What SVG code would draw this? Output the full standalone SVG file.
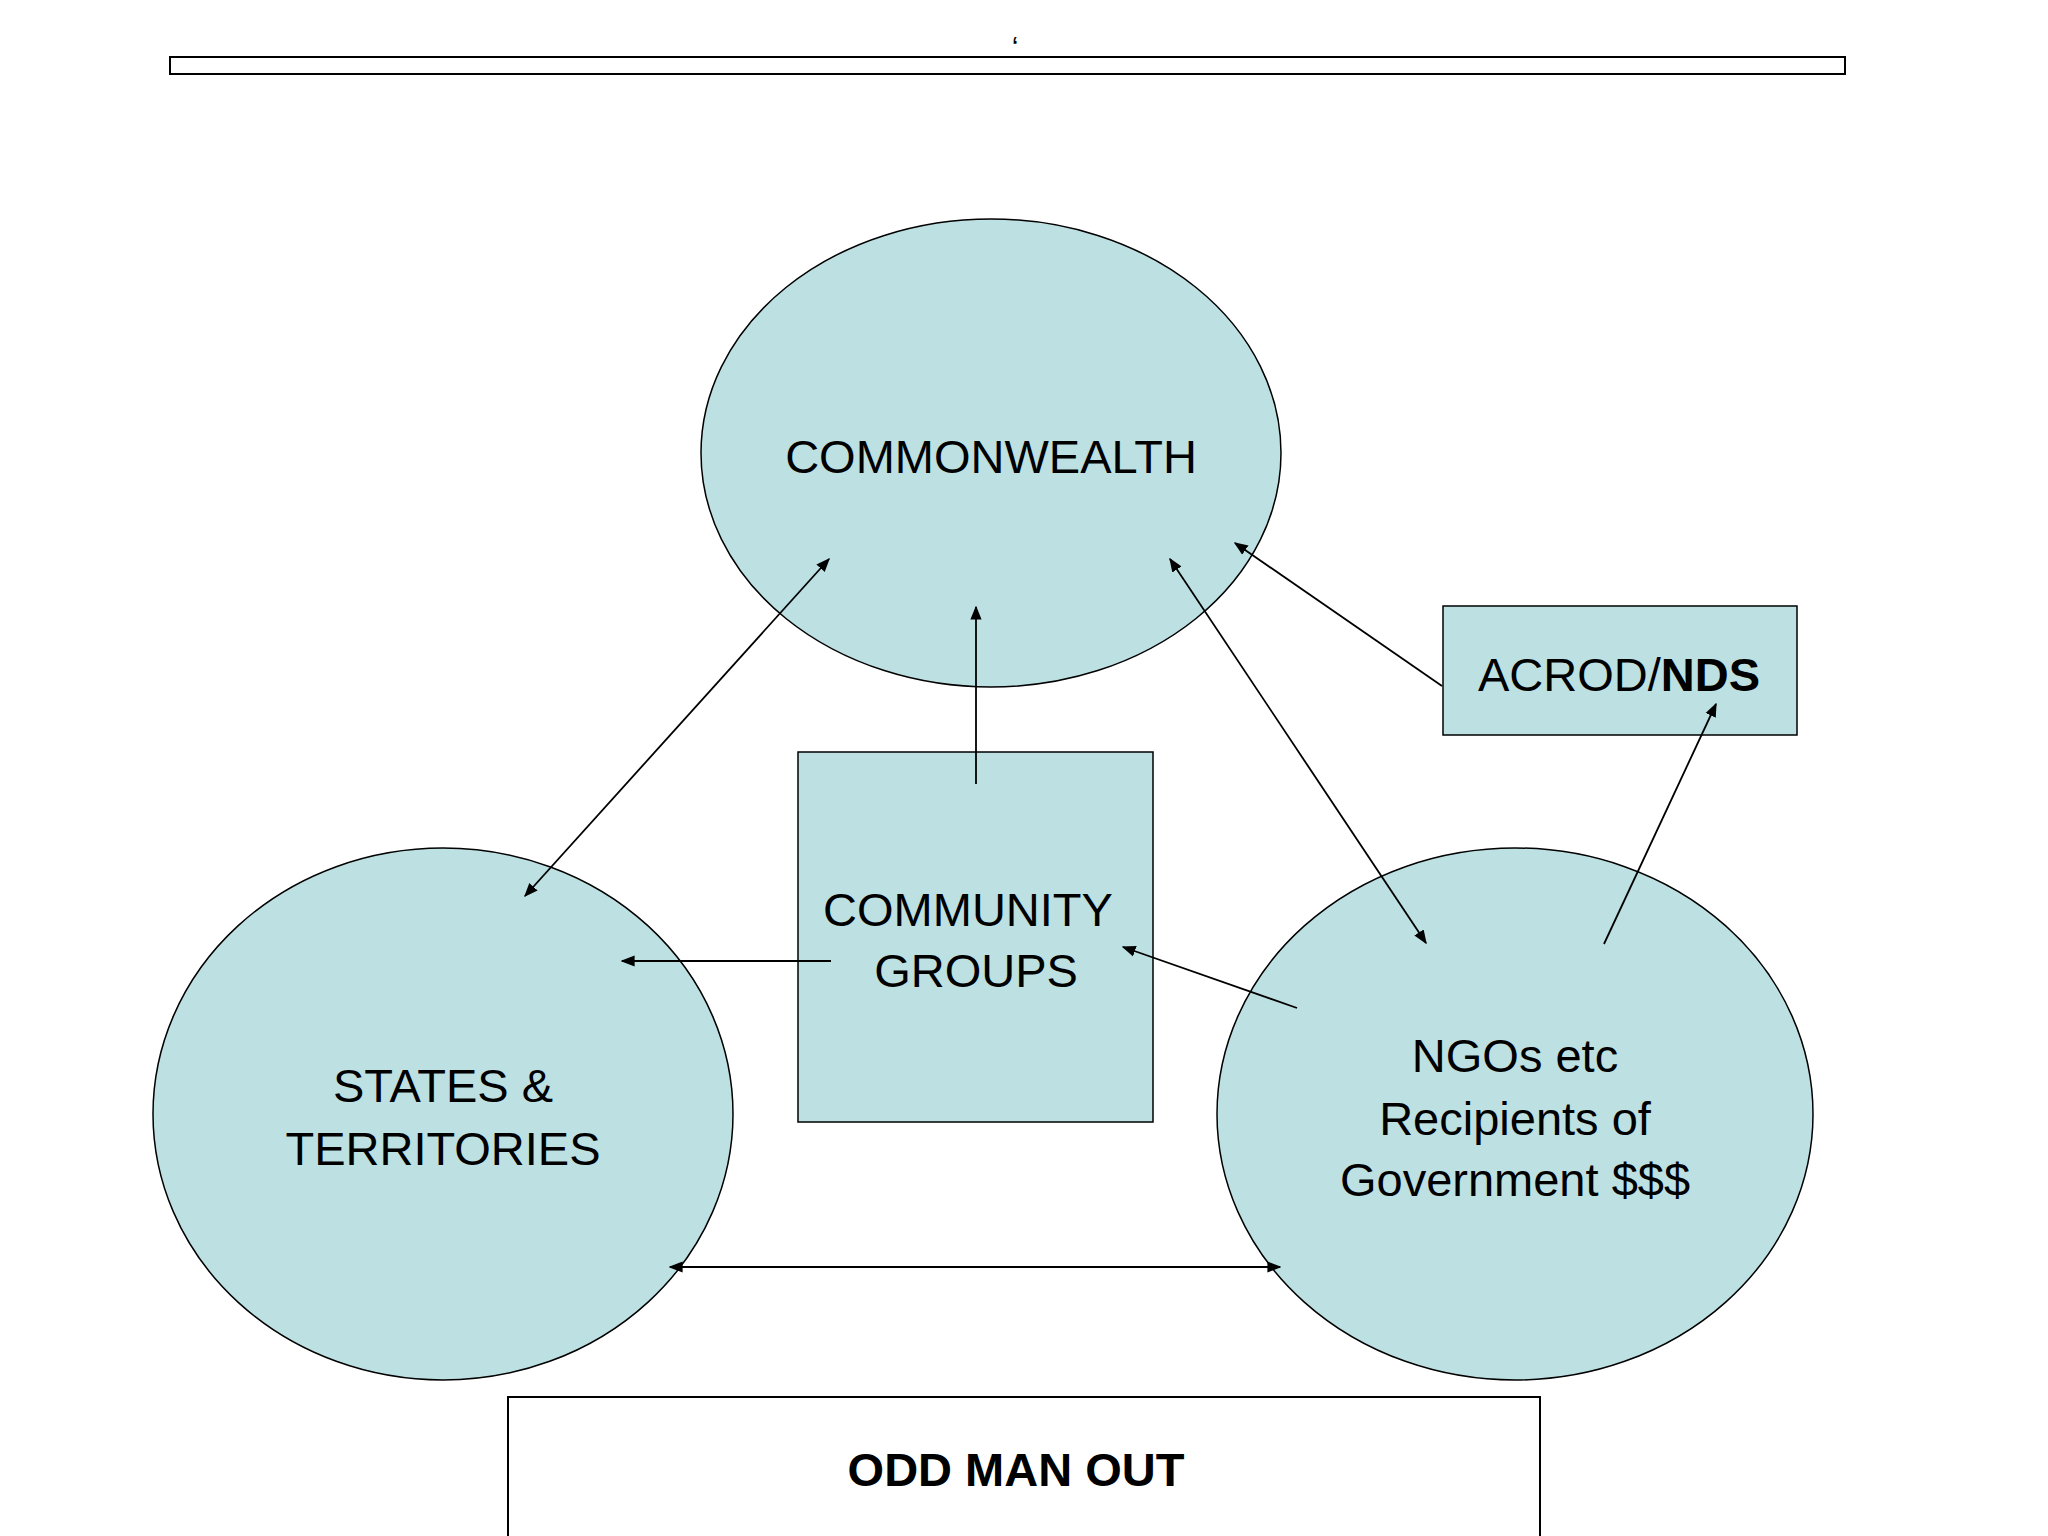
<svg xmlns="http://www.w3.org/2000/svg" width="2048" height="1536" viewBox="0 0 2048 1536">
<style>
.n{fill:#bde0e2;stroke:#000;stroke-width:1.5}
.b{fill:#fff;stroke:#000;stroke-width:2}
.t{font-family:"Liberation Sans",Arial,sans-serif;font-size:47px;text-anchor:middle;dominant-baseline:central;fill:#000}
.c line{stroke:#000;stroke-width:1.8}
</style>
<defs><marker id="a" viewBox="0 0 10 10" refX="9" refY="5" markerWidth="14" markerHeight="14" markerUnits="userSpaceOnUse" orient="auto-start-reverse"><path d="M0,1 L10,5 L0,9 z" fill="#000"/></marker></defs>
<rect x="170" y="57" width="1675" height="17" class="b"/>
<text x="1015" y="46" class="t" style="font-size:30px">‘</text>
<g id="commonwealth"><ellipse cx="991" cy="453" rx="290" ry="234" class="n"/><text x="991" y="456" class="t">COMMONWEALTH</text></g>
<g id="states"><ellipse cx="443" cy="1114" rx="290" ry="266" class="n"/><text x="443" y="1085" class="t">STATES &amp;</text><text x="443" y="1148" class="t">TERRITORIES</text></g>
<g id="ngos"><ellipse cx="1515" cy="1114" rx="298" ry="266" class="n"/><text x="1515" y="1055" class="t">NGOs etc</text><text x="1515" y="1118" class="t">Recipients of</text><text x="1515" y="1179" class="t">Government $$$</text></g>
<g id="community"><rect x="798" y="752" width="355" height="370" class="n"/><text x="968" y="909" class="t">COMMUNITY</text><text x="976" y="970" class="t">GROUPS</text></g>
<g id="acrod"><rect x="1443" y="606" width="354" height="129" class="n"/><text x="1619" y="674" class="t">ACROD/<tspan font-weight="bold">NDS</tspan></text></g>
<g id="odd"><rect x="508" y="1397" width="1032" height="145" class="b"/><text x="1016" y="1469" class="t" font-weight="bold">ODD MAN OUT</text></g>
<g class="c">
<line x1="829" y1="559" x2="525" y2="896" marker-start="url(#a)" marker-end="url(#a)"/>
<line x1="976" y1="784" x2="976" y2="607" marker-end="url(#a)"/>
<line x1="831" y1="961" x2="622" y2="961" marker-end="url(#a)"/>
<line x1="1297" y1="1008" x2="1123" y2="947" marker-end="url(#a)"/>
<line x1="1170" y1="559" x2="1426" y2="943" marker-start="url(#a)" marker-end="url(#a)"/>
<line x1="1442" y1="686" x2="1235" y2="543" marker-end="url(#a)"/>
<line x1="1604" y1="944" x2="1716" y2="704" marker-end="url(#a)"/>
<line x1="670" y1="1267" x2="1280" y2="1267" marker-start="url(#a)" marker-end="url(#a)"/>
</g>
</svg>
